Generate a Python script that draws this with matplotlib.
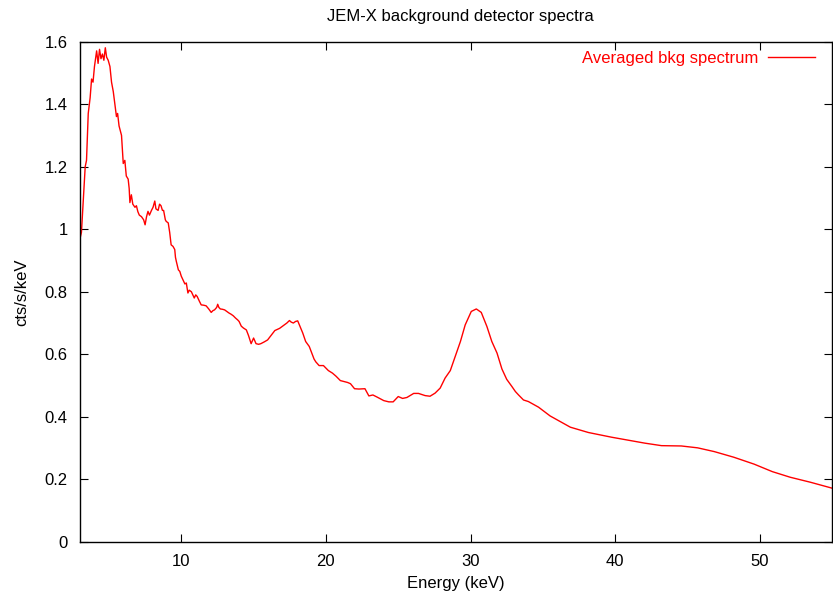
import matplotlib
matplotlib.use('Agg')
import matplotlib.pyplot as plt
from matplotlib.ticker import FormatStrFormatter

plt.rcParams['font.family'] = ['Liberation Sans', 'DejaVu Sans']

# energy (keV) and averaged background rate (cts/s/keV)
energy = [3.0, 3.1, 3.36, 3.45, 3.57, 3.7, 3.8, 3.9, 4.0, 4.15, 4.25, 4.35, 4.45,
          4.55, 4.65, 4.75, 4.84, 4.95, 5.07, 5.18, 5.3, 5.41, 5.52, 5.6, 5.7,
          5.87, 5.99, 6.1, 6.2, 6.33, 6.4, 6.45, 6.55, 6.65, 6.8, 6.9, 7.0, 7.1,
          7.25, 7.4, 7.5, 7.6, 7.7, 7.8, 7.94, 8.05, 8.17, 8.25, 8.4, 8.5, 8.6,
          8.7, 8.78, 8.9, 8.96, 9.1, 9.2, 9.3, 9.43, 9.55, 9.6, 9.66, 9.8, 9.9,
          10.0, 10.12, 10.25, 10.35, 10.46, 10.55, 10.7, 10.8, 10.9, 11.0, 11.1,
          11.25, 11.38, 11.55, 11.72, 11.9, 12.07, 12.2, 12.3, 12.45, 12.52, 12.6,
          12.7, 12.85, 13.0, 13.15, 13.3, 13.45, 13.6, 13.75, 13.9, 14.0, 14.15,
          14.3, 14.5, 14.65, 14.83, 15.0, 15.17, 15.35, 15.5, 15.75, 15.97, 16.2,
          16.47, 16.8, 17.13, 17.3, 17.48, 17.6, 17.75, 17.9, 18.05, 18.4, 18.6,
          18.85, 19.18, 19.3, 19.53, 19.83, 20.17, 20.45, 20.7, 21.0, 21.5, 21.7,
          21.98, 22.28, 22.7, 22.97, 23.25, 23.55, 24.0, 24.35, 24.65, 25.0, 25.3,
          25.6, 26.07, 26.4, 26.86, 27.2, 27.55, 27.9, 28.24, 28.6, 28.94, 29.3,
          29.63, 30.05, 30.4, 30.74, 31.13, 31.47, 31.83, 32.17, 32.5, 32.86,
          33.1, 33.32, 33.66, 34.0, 34.7, 35.5, 36.2, 36.9, 38.15, 39.75, 42.05,
          43.2, 44.57, 45.7, 46.85, 48.2, 49.6, 50.86, 52.1, 53.5, 55.0]
rate = [0.97, 0.99, 1.20, 1.22, 1.37, 1.42, 1.48, 1.47, 1.52, 1.57, 1.53, 1.575,
        1.545, 1.56, 1.54, 1.58, 1.55, 1.54, 1.52, 1.47, 1.44, 1.40, 1.36, 1.37,
        1.33, 1.30, 1.21, 1.22, 1.17, 1.16, 1.13, 1.085, 1.11, 1.08, 1.07, 1.075,
        1.056, 1.045, 1.04, 1.03, 1.014, 1.04, 1.057, 1.045, 1.06, 1.07, 1.09,
        1.065, 1.06, 1.08, 1.075, 1.06, 1.06, 1.03, 1.025, 1.02, 0.99, 0.95,
        0.945, 0.935, 0.91, 0.897, 0.87, 0.865, 0.85, 0.838, 0.825, 0.828, 0.796,
        0.805, 0.80, 0.79, 0.78, 0.79, 0.785, 0.77, 0.758, 0.757, 0.755, 0.745,
        0.734, 0.74, 0.742, 0.75, 0.76, 0.75, 0.745, 0.744, 0.742, 0.737, 0.732,
        0.728, 0.723, 0.716, 0.71, 0.705, 0.69, 0.684, 0.678, 0.66, 0.634, 0.652,
        0.634, 0.632, 0.634, 0.64, 0.646, 0.66, 0.676, 0.683, 0.694, 0.70, 0.708,
        0.703, 0.70, 0.705, 0.707, 0.668, 0.641, 0.625, 0.585, 0.576, 0.564,
        0.564, 0.548, 0.54, 0.53, 0.516, 0.51, 0.506, 0.49, 0.489, 0.49, 0.467,
        0.47, 0.463, 0.452, 0.448, 0.448, 0.465, 0.459, 0.462, 0.475, 0.475,
        0.468, 0.466, 0.476, 0.492, 0.524, 0.548, 0.593, 0.641, 0.694, 0.737,
        0.745, 0.734, 0.689, 0.641, 0.604, 0.553, 0.52, 0.497, 0.481, 0.47,
        0.454, 0.449, 0.431, 0.403, 0.385, 0.367, 0.35, 0.335, 0.316, 0.308,
        0.307, 0.301, 0.289, 0.271, 0.249, 0.225, 0.207, 0.191, 0.172]

xticks = [10, 20, 30, 40, 50]
yticks = [0, 0.2, 0.4, 0.6, 0.8, 1.0, 1.2, 1.4, 1.6]

fig = plt.figure(figsize=(8.33, 5.93), dpi=100)
ax = fig.add_axes([80 / 833, 1 - 542 / 593, 1 - 80 / 833 - 0.001, (542 - 41.5) / 593])

ax.plot(energy, rate, color='red', lw=1.0, label='Averaged bkg spectrum')

ax.set_xlim(3, 55)
ax.set_ylim(0, 1.6)
ax.set_xticks(xticks)
ax.set_yticks(yticks)
ax.yaxis.set_major_formatter(FormatStrFormatter('%g'))
ax.tick_params(direction='in', top=True, right=True, length=6, width=0.8,
               labelsize=12, pad=9)
for s in ax.spines.values():
    s.set_linewidth(1.0)

fig.text(460 / 833, 1 - 17 / 593, 'JEM-X background detector spectra',
         fontsize=12, ha='center', va='center')
ax.set_xlabel('Energy (keV)', fontsize=12, labelpad=5)
ax.set_ylabel('cts/s/keV', fontsize=12, labelpad=11)

ax.legend(loc='upper right', frameon=False, markerfirst=False, labelcolor='red',
          handlelength=2.8, handletextpad=0.6, fontsize=12, borderpad=0,
          borderaxespad=0, bbox_to_anchor=((815 - 80) / 752, (542 - 51) / 500.5))

fig.savefig('out.png', dpi=100)
